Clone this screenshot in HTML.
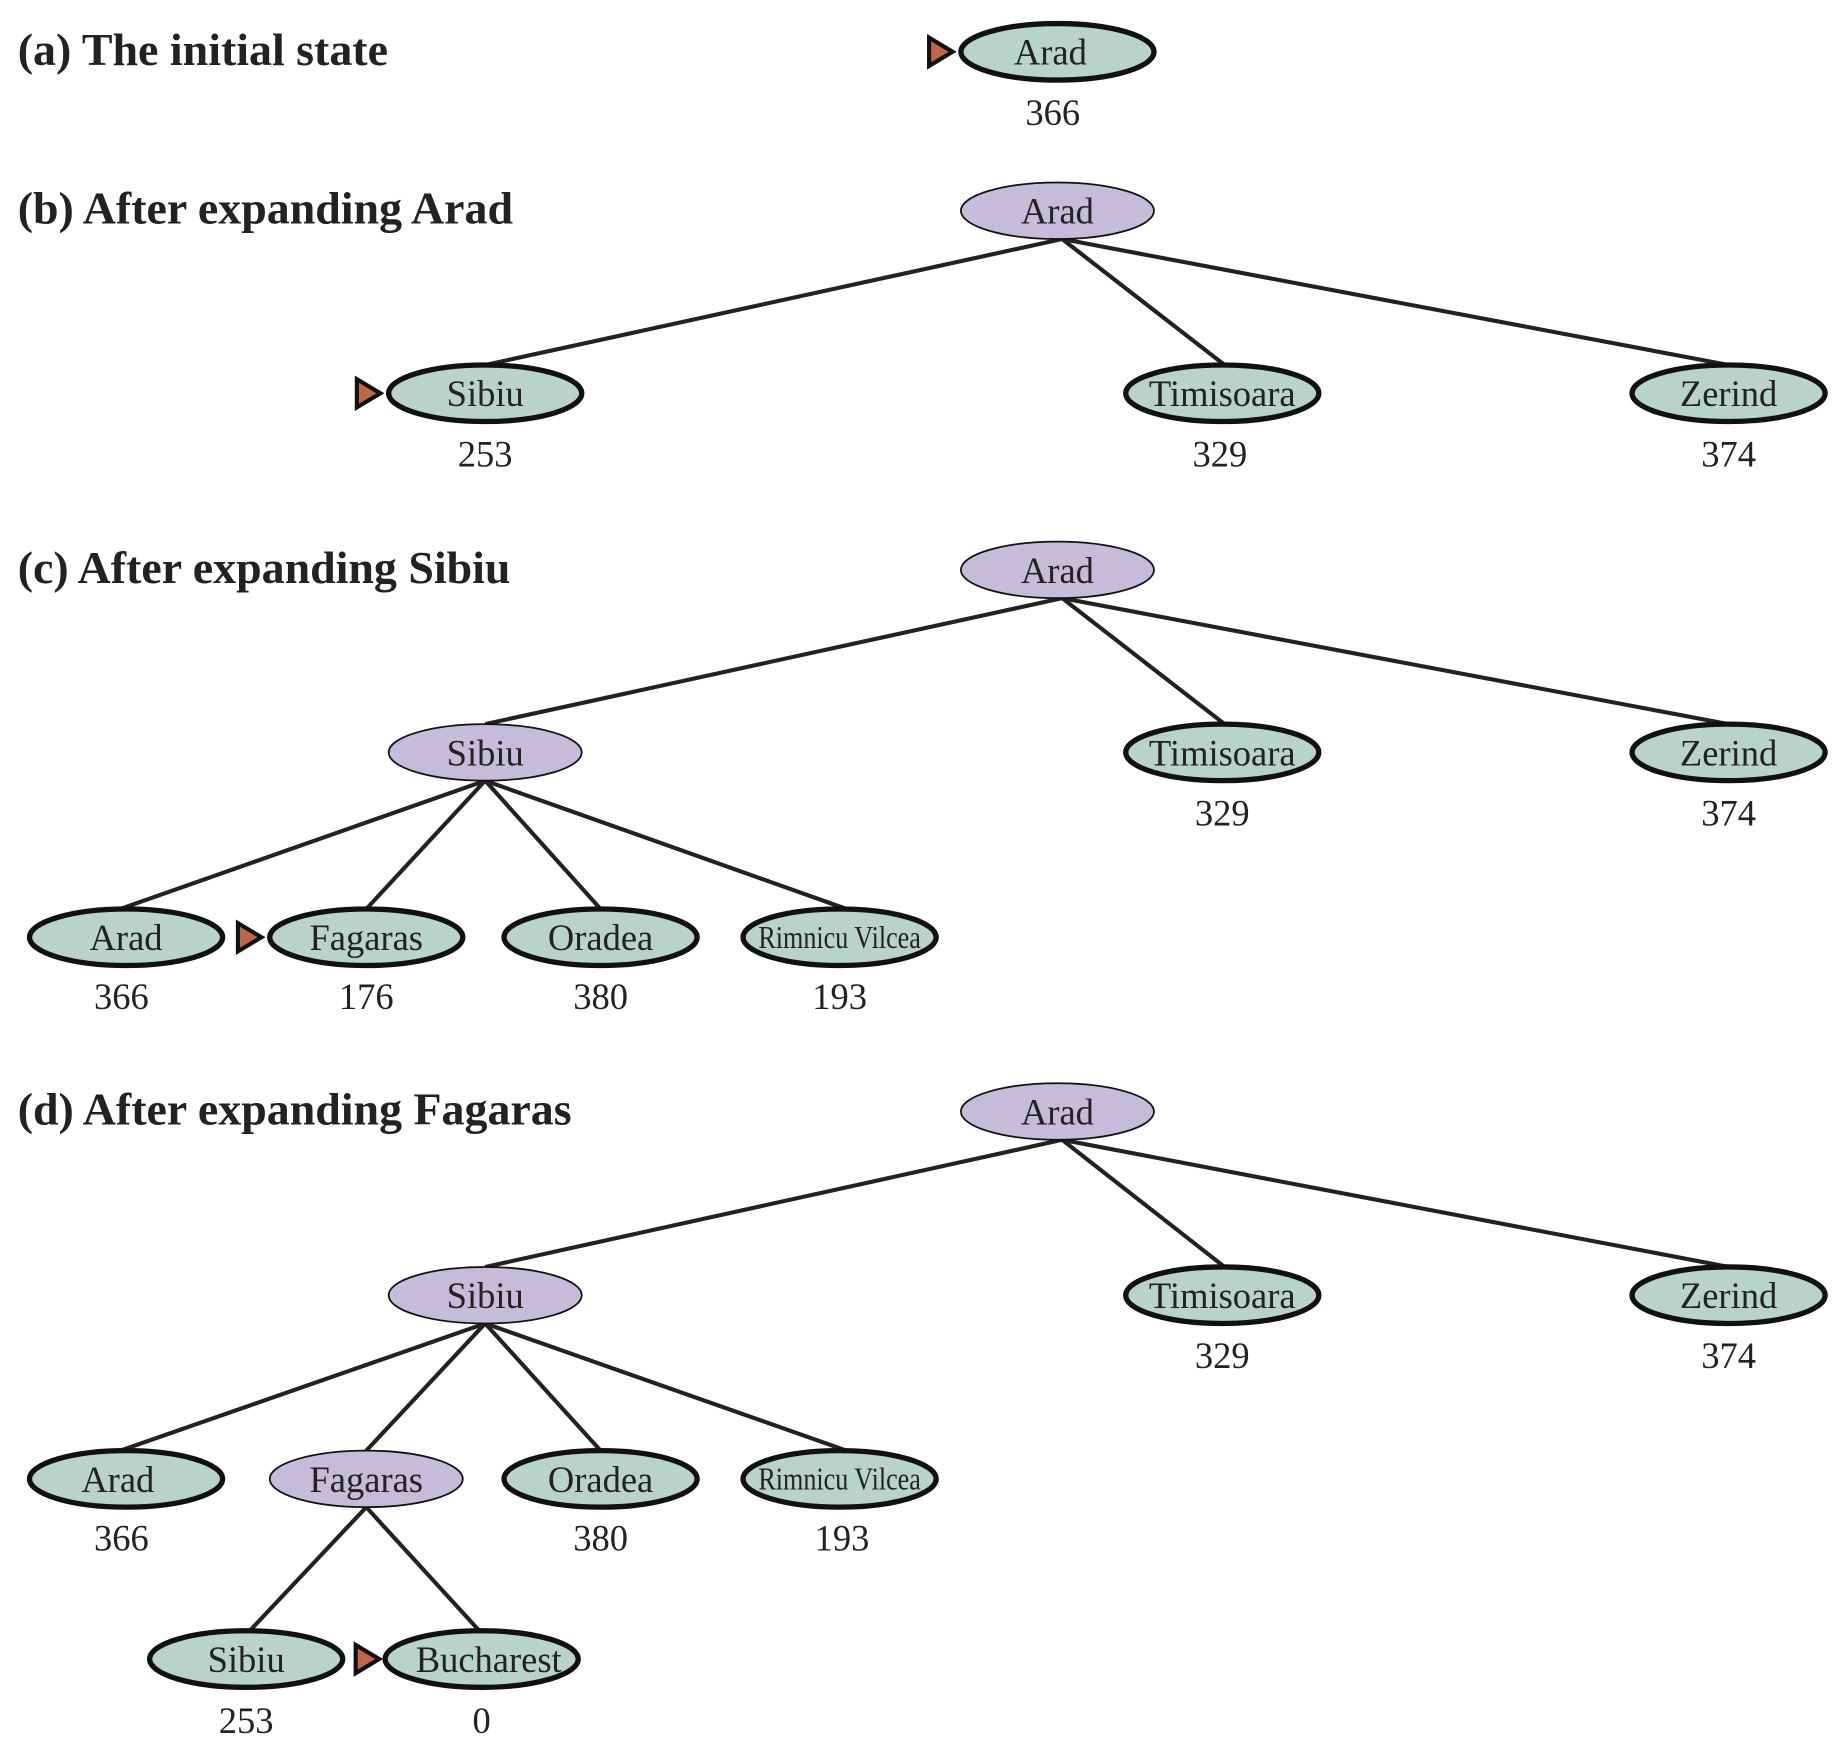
<!DOCTYPE html>
<html><head><style>html,body{margin:0;padding:0;background:#fff}</style></head><body>
<svg width="1837" height="1745" viewBox="0 0 1560 1482" xmlns="http://www.w3.org/2000/svg" font-family="Liberation Serif, serif">
<g font-size="39" font-weight="bold" fill="#222">
<text x="15" y="55">(a) The initial state</text>
<text x="15" y="190">(b) After expanding Arad</text>
<text x="15" y="495">(c) After expanding Sibiu</text>
<text x="15" y="955">(d) After expanding Fagaras</text>
</g>
<g transform="translate(-3,-3)">
<g stroke="#222" stroke-width="3.5" fill="none">
<path d="M905 206L415 313M905 206L1043 313M905 206L1471 313"/>
<path d="M905 511L415 618M905 511L1043 618M905 511L1471 618"/>
<path d="M415 666L105 775M415 666L314 775M415 666L513 775M415 666L722 775"/>
<path d="M905 971L415 1079M905 971L1043 1079M905 971L1471 1079"/>
<path d="M415 1127L105 1235M415 1127L314 1235M415 1127L513 1235M415 1127L722 1235"/>
<path d="M314 1283L215 1388M314 1283L410 1388"/>
</g>
<g stroke="#111" stroke-width="4.5" fill="#b8d4c8">
<ellipse cx="901" cy="47" rx="82" ry="24"/>
<ellipse cx="415" cy="337" rx="82" ry="24"/>
<ellipse cx="1041" cy="337" rx="82" ry="24"/>
<ellipse cx="1471" cy="337" rx="82" ry="24"/>
<ellipse cx="1041" cy="642" rx="82" ry="24"/>
<ellipse cx="1471" cy="642" rx="82" ry="24"/>
<ellipse cx="110" cy="799" rx="82" ry="24"/>
<ellipse cx="314" cy="799" rx="82" ry="24"/>
<ellipse cx="513" cy="799" rx="82" ry="24"/>
<ellipse cx="716" cy="799" rx="82" ry="24"/>
<ellipse cx="1041" cy="1103" rx="82" ry="24"/>
<ellipse cx="1471" cy="1103" rx="82" ry="24"/>
<ellipse cx="110" cy="1259" rx="82" ry="24"/>
<ellipse cx="513" cy="1259" rx="82" ry="24"/>
<ellipse cx="716" cy="1259" rx="82" ry="24"/>
<ellipse cx="212" cy="1412" rx="82" ry="24"/>
<ellipse cx="412" cy="1412" rx="82" ry="24"/>
</g>
<g stroke="#111" stroke-width="1.5" fill="#c4bcd8">
<ellipse cx="901" cy="182" rx="82" ry="24"/>
<ellipse cx="901" cy="487" rx="82" ry="24"/>
<ellipse cx="415" cy="642" rx="82" ry="24"/>
<ellipse cx="901" cy="947" rx="82" ry="24"/>
<ellipse cx="415" cy="1103" rx="82" ry="24"/>
<ellipse cx="314" cy="1259" rx="82" ry="24"/>
</g>
<g fill="#c0654a" stroke="#111" stroke-width="3.5">
<path d="M792 35L812 47L792 59Z"/>
<path d="M306 325L326 337L306 349Z"/>
<path d="M205 787L225 799L205 811Z"/>
<path d="M305 1400L325 1412L305 1424Z"/>
</g>
<g font-size="31" fill="#222" text-anchor="middle">
<text x="895" y="58">Arad</text><text x="897" y="109">366</text>
<text x="901" y="193">Arad</text>
<text x="415" y="348">Sibiu</text><text x="1041" y="348">Timisoara</text><text x="1471" y="348">Zerind</text>
<text x="415" y="399">253</text><text x="1039" y="399">329</text><text x="1471" y="399">374</text>
<text x="901" y="498">Arad</text>
<text x="415" y="653">Sibiu</text><text x="1041" y="653">Timisoara</text><text x="1471" y="653">Zerind</text>
<text x="1041" y="704">329</text><text x="1471" y="704">374</text>
<text x="110" y="810">Arad</text><text x="314" y="810">Fagaras</text><text x="513" y="810">Oradea</text>
<text x="716" y="808" font-size="27" textLength="138" lengthAdjust="spacingAndGlyphs">Rimnicu Vilcea</text>
<text x="106" y="860">366</text><text x="314" y="860">176</text><text x="513" y="860">380</text><text x="716" y="860">193</text>
<text x="901" y="958">Arad</text>
<text x="415" y="1114">Sibiu</text><text x="1041" y="1114">Timisoara</text><text x="1471" y="1114">Zerind</text>
<text x="1041" y="1165">329</text><text x="1471" y="1165">374</text>
<text x="103" y="1270">Arad</text><text x="314" y="1270">Fagaras</text><text x="513" y="1270">Oradea</text>
<text x="716" y="1268" font-size="27" textLength="138" lengthAdjust="spacingAndGlyphs">Rimnicu Vilcea</text>
<text x="106" y="1320">366</text><text x="513" y="1320">380</text><text x="718" y="1320">193</text>
<text x="212" y="1423">Sibiu</text><text x="418" y="1423">Bucharest</text>
<text x="212" y="1475">253</text><text x="412" y="1475">0</text>
</g>
</g>
</svg>
</body></html>
